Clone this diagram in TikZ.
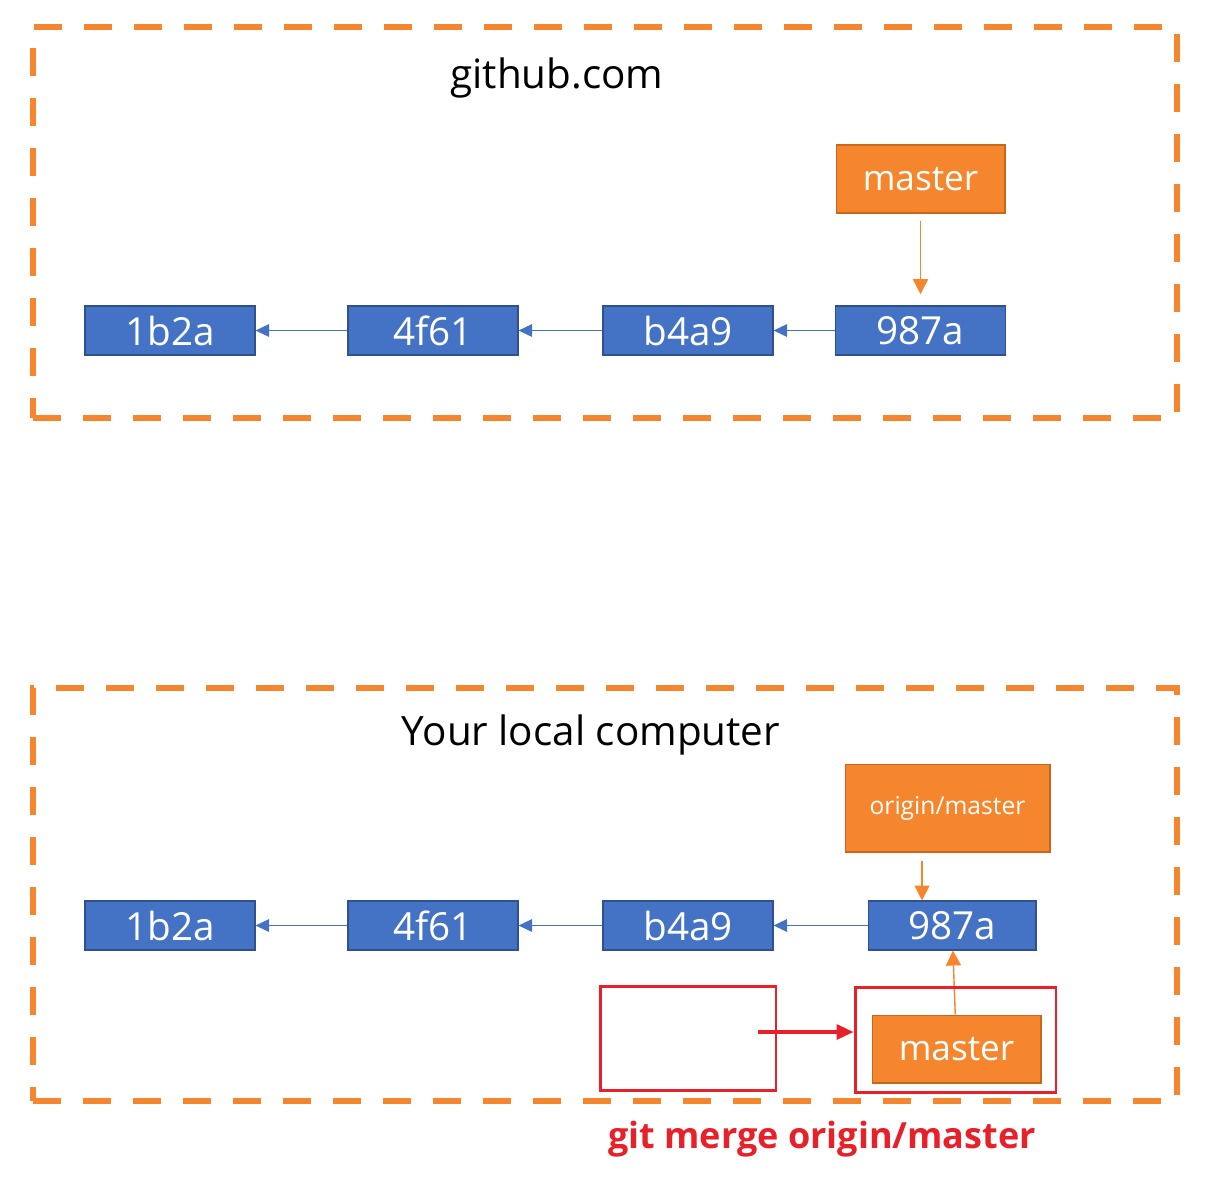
\documentclass[tikz,border=0pt]{standalone}
\usepackage{fontspec}
\setmainfont{Open Sans}
\usetikzlibrary{arrows.meta}

\definecolor{gitblue}{HTML}{4472C4}
\definecolor{gitblueline}{HTML}{2F528F}
\definecolor{gitorange}{HTML}{F5862E}
\definecolor{gitorangeline}{HTML}{C8671C}
\definecolor{mergered}{HTML}{E8202A}

\tikzset{
  commit/.style={fill=gitblue, draw=gitblueline, line width=0.6pt, text=white,
    minimum width=3.4cm, minimum height=0.98cm, inner sep=0,
    font=\fontsize{22}{26}\selectfont},
  branch/.style={fill=gitorange, draw=gitorangeline, line width=0.6pt, text=white,
    minimum width=3.38cm, minimum height=1.36cm, inner sep=0,
    font=\fontsize{20}{24}\selectfont},
  area/.style={draw=gitorange, line width=3.1pt, dash pattern=on 0.56cm off 0.44cm,
    inner sep=0},
  title/.style={font=\fontsize{23}{27}\selectfont},
  parent/.style={draw=gitblue, line width=0.8pt, -{Triangle[length=0.27cm,width=0.25cm]}},
  pointer/.style={draw=gitorange, line width=0.8pt, -{Triangle[length=0.3cm,width=0.3cm]}},
  hilite/.style={draw=mergered, line width=1.7pt, inner sep=0},
}

\begin{document}
\begin{tikzpicture}[x=0.02cm, y=-0.02cm]
  \useasboundingbox (0,0) rectangle (1206,1188);

  % remote repository
  \node [area, minimum width=22.88cm, minimum height=7.82cm] (remote) at (605,222.5) {};
  \node [title] (remotetitle) at (557,78) {github.com};

  \node [commit] (r1) at (170,330.5) {1b2a};
  \node [commit] (r2) at (433,330.5) {4f61};
  \node [commit] (r3) at (688,330.5) {b4a9};
  \node [commit] (r4) at (920.5,330.5) {987a};
  \node [branch] (rmaster) at (920.5,179) {master};

  \draw [parent] (r2) -- (r1);
  \draw [parent] (r3) -- (r2);
  \draw [parent] (r4) -- (r3);
  \draw [pointer, shorten <=5\pgflinewidth, shorten >=8\pgflinewidth] (rmaster) -- (r4);

  % local repository
  \node [area, minimum width=22.88cm, minimum height=8.26cm] (local) at (605,894.5) {};
  \node [title] (localtitle) at (591,735) {Your local computer};

  \node [commit] (l1) at (170,925.5) {1b2a};
  \node [commit] (l2) at (433,925.5) {4f61};
  \node [commit] (l3) at (688,925.5) {b4a9};
  \node [commit, minimum width=3.36cm] (l4) at (952,925.5) {987a};
  \node [branch, minimum width=4.1cm, minimum height=1.76cm,
    font=\fontsize{14}{17}\selectfont] (origin) at (947.5,808) {origin/master};
  \node [branch] (lmaster) at (956.5,1049) {master};

  \draw [parent] (l2) -- (l1);
  \draw [parent] (l3) -- (l2);
  \draw [parent] (l4) -- (l3);
  \draw [pointer, shorten <=6\pgflinewidth]
    ([xshift=-0.51cm]origin.south) -- ([xshift=-0.51cm]origin.south |- l4.north);
  \draw [pointer] (lmaster) -- (l4);

  % merge
  \node [hilite, minimum width=3.52cm, minimum height=2.08cm] (before) at (688,1038) {};
  \node [hilite, minimum width=4.02cm, minimum height=2.1cm] (after) at (955.5,1039.5) {};
  \coordinate (mergefrom) at (758,1032);
  \draw [mergered, line width=1.8pt, -{Triangle[length=0.34cm,width=0.3cm]}]
    (mergefrom) -- (mergefrom -| after.west);
  \node [text=mergered, font=\bfseries\fontsize{20.5}{24}\selectfont] (mergecmd) at (822,1139)
    {git merge origin/master};
\end{tikzpicture}
\end{document}
